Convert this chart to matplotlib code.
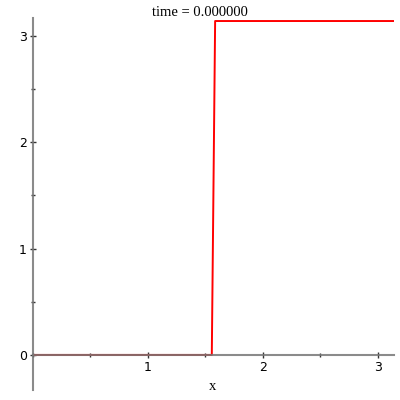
# Maple-style step plot: u(x, 0) with a jump at pi/2

import numpy as np
import matplotlib.pyplot as plt
from matplotlib.ticker import MultipleLocator

x_vals = [0.0, 1.556, 1.585, 3.1416]
u_vals = [0.0, 0.0, 3.1416, 3.1416]
x_ticks = [1, 2, 3]
y_ticks = [0, 1, 2, 3]
title = 'time = 0.000000'

fig = plt.figure(figsize=(4, 4), dpi=100)
ax = fig.add_axes([0.0825, 0.025, 0.9025, 0.93])

ax.plot(x_vals, u_vals, color='red', lw=1.4, zorder=2)

ax.set_xlim(0, np.pi)
ax.set_ylim(-0.33, 3.17)

for s in ['top', 'right']:
    ax.spines[s].set_visible(False)
ax.spines['bottom'].set_position(('data', 0))
ax.spines['left'].set_position(('data', 0))
for s in ['bottom', 'left']:
    ax.spines[s].set_color('#777777')
    ax.spines[s].set_linewidth(1.5)
    ax.spines[s].set_alpha(0.85)
    ax.spines[s].set_zorder(3)

ax.set_xticks(x_ticks)
ax.set_yticks(y_ticks)
ax.xaxis.set_minor_locator(MultipleLocator(0.5))
ax.yaxis.set_minor_locator(MultipleLocator(0.5))
ax.tick_params(which='major', direction='inout', length=5, width=1, color='#333333',
               labelsize=9, pad=2)
ax.tick_params(which='minor', direction='inout', length=3, width=1, color='#333333')
ax.set_facecolor('none')

fig.text(0.5, 0.9675, title, ha='center', va='center', family='Liberation Serif', fontsize=10.5)
fig.text(213 / 400, 1 - 386 / 400, 'x', ha='center', va='center', family='Liberation Serif', fontsize=10.5)

fig.savefig('out.png', dpi=100)
